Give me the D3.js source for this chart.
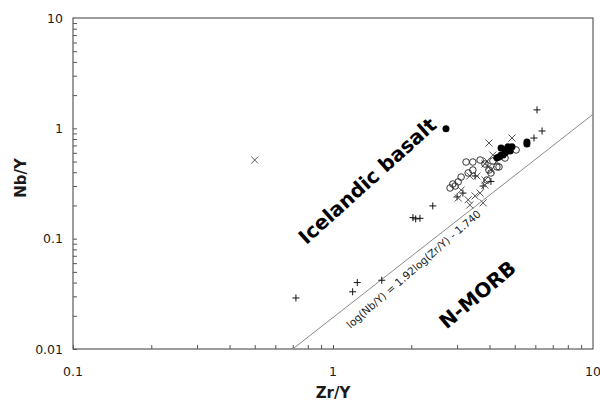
<!DOCTYPE html>
<html>
<head>
<meta charset="utf-8">
<script src="https://cdn.jsdelivr.net/npm/d3@7"></script>
<style>
  body { margin: 0; background: #fff; }
  text { font-family: "DejaVu Sans", Verdana, sans-serif; fill: #1a1a1a; }
</style>
</head>
<body>
<svg id="chart" width="600" height="403"></svg>
<script>
// Zr/Y vs Nb/Y
const plusZr = [0.72, 1.19, 1.24, 1.54, 2.03, 2.08, 2.16, 2.42, 3.0, 3.16, 3.52, 3.78, 4.05, 5.93, 6.09, 6.37];
const plusNb = [0.029, 0.033, 0.040, 0.042, 0.155, 0.151, 0.153, 0.198, 0.239, 0.259, 0.37, 0.30, 0.33, 0.817, 1.47, 0.946];

const crossZr = [0.50, 3.98, 4.88, 4.12, 3.91, 3.84, 3.36, 3.58, 3.84, 3.11, 3.03, 3.68, 3.52, 3.36, 3.78, 3.98, 4.05, 3.84, 4.27, 3.31];
const crossNb = [0.516, 0.736, 0.817, 0.573, 0.506, 0.475, 0.37, 0.37, 0.306, 0.276, 0.234, 0.259, 0.244, 0.202, 0.211, 0.45, 0.42, 0.34, 0.50, 0.225];

const openZr = [3.25, 3.45, 3.68, 3.84, 3.98, 4.27, 3.31, 3.11, 3.03, 2.89, 2.82, 4.05, 3.91, 3.45, 5.06, 4.35, 4.59, 4.12, 2.95];
const openNb = [0.495, 0.495, 0.516, 0.475, 0.419, 0.447, 0.394, 0.362, 0.327, 0.313, 0.288, 0.394, 0.34, 0.419, 0.637, 0.447, 0.538, 0.506, 0.30];

const fillZr = [2.72, 5.57, 5.57, 4.43, 4.59, 4.71, 4.80, 4.51, 4.35, 4.43, 4.27, 4.71, 4.88, 4.60];
const fillNb = [0.99, 0.752, 0.72, 0.663, 0.637, 0.663, 0.623, 0.573, 0.55, 0.573, 0.54, 0.68, 0.68, 0.60];

// discriminant line as drawn
const lineZr = [0.70, 10];
const lineNb = [0.01, 1.34];

const xTicks = [0.1, 1, 10];
const yTicks = [0.01, 0.1, 1, 10];
const xTickLabels = ['0.1', '1', '10'];
const yTickLabels = ['0.01', '0.1', '1', '10'];

const plot = { left: 73, right: 593, top: 18, bottom: 349 };

const svg = d3.select('#chart');

const x = d3.scaleLog().domain([0.1, 10]).range([plot.left, plot.right]);
const y = d3.scaleLog().domain([0.01, 10]).range([plot.bottom, plot.top]);

const zip = (a, b) => a.map((v, i) => [v, b[i]]);

// frame
svg.append('rect')
  .attr('x', plot.left).attr('y', plot.top)
  .attr('width', plot.right - plot.left).attr('height', plot.bottom - plot.top)
  .attr('fill', 'none').attr('stroke', '#3a3a3a').attr('stroke-width', 1);

// minor + major ticks, pointing inward
const xAll = x.ticks().filter(d => d < 10);
const yAll = y.ticks().filter(d => d < 10);

svg.append('g')
  .attr('transform', `translate(0,${plot.bottom})`)
  .call(d3.axisTop(x).tickValues(xAll).tickSize(4).tickFormat(''))
  .call(g => g.select('.domain').remove())
  .call(g => g.selectAll('line').attr('stroke', '#555'));

svg.append('g')
  .attr('transform', `translate(${plot.left},0)`)
  .call(d3.axisRight(y).tickValues(yAll).tickSize(4).tickFormat(''))
  .call(g => g.select('.domain').remove())
  .call(g => g.selectAll('line').attr('stroke', '#555'));

// tick labels
svg.append('g').selectAll('text')
  .data(xTicks)
  .join('text')
  .attr('x', d => x(d))
  .attr('y', 376)
  .attr('text-anchor', 'middle')
  .style('font-size', '12.5px')
  .text((d, i) => xTickLabels[i]);

svg.append('g').selectAll('text')
  .data(yTicks)
  .join('text')
  .attr('x', 63)
  .attr('y', d => y(d) + 4.5)
  .attr('text-anchor', 'end')
  .style('font-size', '12.5px')
  .text((d, i) => yTickLabels[i]);

// axis titles
svg.append('text')
  .attr('x', 333).attr('y', 398)
  .attr('text-anchor', 'middle')
  .style('font-size', '15px').style('font-weight', 'bold')
  .text('Zr/Y');

svg.append('text')
  .attr('transform', 'translate(26,178) rotate(-90)')
  .attr('text-anchor', 'middle')
  .style('font-size', '15px').style('font-weight', 'bold')
  .text('Nb/Y');

// discriminant line
svg.append('clipPath').attr('id', 'plot')
  .append('rect').attr('x', plot.left).attr('y', plot.top)
  .attr('width', plot.right - plot.left).attr('height', plot.bottom - plot.top);

svg.append('path')
  .datum(zip(lineZr, lineNb))
  .attr('clip-path', 'url(#plot)')
  .attr('d', d3.line().x(d => x(d[0])).y(d => y(d[1])))
  .attr('fill', 'none')
  .attr('stroke', '#8a8a8a')
  .attr('stroke-width', 1);

// points
const marks = svg.append('g');

marks.selectAll('path.plus')
  .data(zip(plusZr, plusNb))
  .join('path')
  .attr('class', 'plus')
  .attr('d', 'M-3.5,0H3.5M0,-3.5V3.5')
  .attr('transform', d => `translate(${x(d[0])},${y(d[1])})`)
  .attr('stroke', '#111').attr('stroke-width', 1).attr('fill', 'none');

marks.selectAll('path.cross')
  .data(zip(crossZr, crossNb))
  .join('path')
  .attr('class', 'cross')
  .attr('d', 'M-3.5,-3.5L3.5,3.5M-3.5,3.5L3.5,-3.5')
  .attr('transform', d => `translate(${x(d[0])},${y(d[1])})`)
  .attr('stroke', '#555').attr('stroke-width', 1).attr('fill', 'none');

marks.selectAll('circle.open')
  .data(zip(openZr, openNb))
  .join('circle')
  .attr('class', 'open')
  .attr('cx', d => x(d[0]))
  .attr('cy', d => y(d[1]))
  .attr('r', 3.3)
  .attr('fill', 'none').attr('stroke', '#222').attr('stroke-width', 0.9);

marks.selectAll('circle.fill')
  .data(zip(fillZr, fillNb))
  .join('circle')
  .attr('class', 'fill')
  .attr('cx', d => x(d[0]))
  .attr('cy', d => y(d[1]))
  .attr('r', 3.5)
  .attr('fill', '#000');

// field labels
svg.append('text')
  .attr('transform', 'translate(372,186) rotate(-42)')
  .attr('text-anchor', 'middle')
  .style('font-size', '20px').style('font-weight', 'bold')
  .style('fill', '#000')
  .text('Icelandic basalt');

svg.append('text')
  .attr('transform', 'translate(482,300) rotate(-40)')
  .attr('text-anchor', 'middle')
  .style('font-size', '20px').style('font-weight', 'bold')
  .style('fill', '#000')
  .text('N-MORB');

svg.append('text')
  .attr('transform', 'translate(416,272) rotate(-41)')
  .attr('text-anchor', 'middle')
  .style('font-size', '10.5px')
  .text('log(Nb/Y) = 1.92log(Zr/Y) - 1.740');
</script>
</body>
</html>
